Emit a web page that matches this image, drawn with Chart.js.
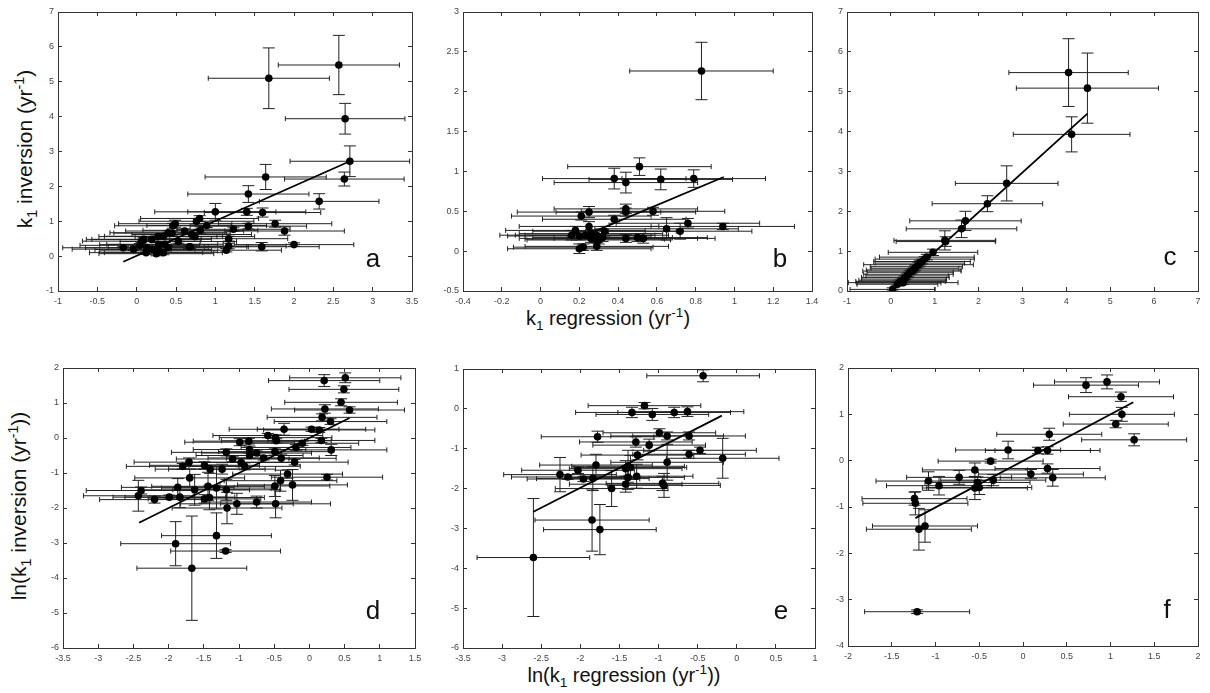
<!DOCTYPE html>
<html>
<head>
<meta charset="utf-8">
<script src="https://cdn.jsdelivr.net/npm/chart.js@4/dist/chart.umd.min.js"></script>
<style>
  html, body { margin: 0; padding: 0; background: #fff; }
  body { position: relative; width: 1210px; height: 693px; overflow: hidden;
         font-family: "Liberation Sans", Arial, Helvetica, sans-serif; }
  canvas { position: absolute; }
  .axis-title { position: absolute; white-space: nowrap; font-size: 20px; color: #111;
                transform: translate(-50%, -50%); }
  .axis-title.rot { transform: translate(-50%, -50%) rotate(-90deg); font-size: 21px; }
  .axis-title sub, .axis-title sup { font-size: 68%; line-height: 0; }
</style>
</head>
<body>

<div class="axis-title rot" style="left:25px; top:149px;">k<sub>1</sub> inversion (yr<sup>-1</sup>)</div>
<div class="axis-title rot" style="left:19px; top:506px;">ln(k<sub>1</sub> inversion (yr<sup>-1</sup>))</div>
<div class="axis-title" style="left:608px; top:318px;">k<sub>1</sub> regression (yr<sup>-1</sup>)</div>
<div class="axis-title" style="left:624px; top:675px;">ln(k<sub>1</sub> regression (yr<sup>-1</sup>))</div>

<script>
/* =======================
   Panel a: k1, inversion vs regression
======================= */
const aX = [1.68, 2.57, 2.65, 2.71, 2.64, 1.64, 1.42, 2.32, 1.00, 1.40, 1.60, 1.76, 1.88, 1.23, 1.42, 2.00, 1.59,
  1.17, 1.17, 1.14, 0.67, 0.80, 0.76, 0.49, 0.46, 0.61, 0.81, 0.89, 0.74, 0.40, 0.34, 0.19, 0.09, 0.28, 0.13,
  0.21, 0.28, -0.04, -0.17, 0.40, 0.53, 0.25, 0.34, 0.12, 0.04, 0.45, 0.06, 0.36, 0.68, 0.70, 0.27];
const aY = [5.10, 5.48, 3.94, 2.72, 2.21, 2.27, 1.78, 1.57, 1.27, 1.27, 1.25, 0.93, 0.72, 0.77, 0.86, 0.33, 0.27,
  0.50, 0.29, 0.17, 0.27, 1.08, 1.00, 0.93, 0.87, 0.72, 0.74, 0.88, 0.56, 0.67, 0.57, 0.48, 0.48, 0.33, 0.24,
  0.19, 0.15, 0.20, 0.24, 0.24, 0.42, 0.07, 0.10, 0.10, 0.31, 0.66, 0.43, 0.34, 0.27, 0.62, 0.56];
const aXErr = [0.77, 0.77, 0.76, 0.76, 0.76, 0.77, 0.77, 0.76, 0.77, 0.75, 0.74, 0.72, 0.76, 0.72, 0.74, 0.76, 0.73,
  0.75, 0.73, 0.70, 0.75, 0.75, 0.73, 0.72, 0.74, 0.75, 0.73, 0.76, 0.76, 0.74, 0.75, 0.76, 0.73, 0.75, 0.78,
  0.74, 0.75, 0.78, 0.77, 0.76, 0.74, 0.73, 0.75, 0.72, 0.76, 0.74, 0.75, 0.74, 0.72, 0.76, 0.75];
const aYErr = [0.87, 0.85, 0.44, 0.44, 0.20, 0.36, 0.24, 0.22, 0.24, 0.10, 0.13, 0.10, 0.12, 0.06, 0.08, 0.05, 0.12,
  0.07, 0.08, 0.05, 0.06, 0.08, 0.08, 0.10, 0.07, 0.06, 0.10, 0.06, 0.06, 0.06, 0.06, 0.05, 0.06, 0.06, 0.05,
  0.05, 0.05, 0.04, 0.04, 0.05, 0.05, 0.06, 0.06, 0.05, 0.05, 0.06, 0.05, 0.05, 0.05, 0.06, 0.05];
const aFitX = [-0.17, 2.71];
const aFitY = [-0.16, 2.72];
const aXTicks = [-1, -0.5, 0, 0.5, 1, 1.5, 2, 2.5, 3, 3.5];
const aYTicks = [-1, 0, 1, 2, 3, 4, 5, 6, 7];

/* =======================
   Panel b
======================= */
const bX = [0.83, 0.51, 0.38, 0.44, 0.62, 0.79, 0.21, 0.25, 0.44, 0.44, 0.58, 0.38, 0.25, 0.33, 0.65, 0.72, 0.76,
  0.94, 0.18, 0.16, 0.20, 0.23, 0.26, 0.29, 0.28, 0.30, 0.20, 0.22, 0.29, 0.44, 0.53, 0.50, 0.26, 0.32];
const bY = [2.26, 1.06, 0.91, 0.86, 0.90, 0.91, 0.44, 0.49, 0.53, 0.49, 0.50, 0.40, 0.31, 0.25, 0.28, 0.25, 0.35,
  0.31, 0.26, 0.20, 0.19, 0.20, 0.22, 0.20, 0.15, 0.14, 0.03, 0.05, 0.06, 0.16, 0.16, 0.17, 0.16, 0.17];
const bXErr = [0.37, 0.37, 0.37, 0.37, 0.37, 0.37, 0.36, 0.37, 0.37, 0.36, 0.37, 0.37, 0.36, 0.37, 0.37, 0.37, 0.37,
  0.37, 0.36, 0.37, 0.37, 0.36, 0.37, 0.37, 0.36, 0.37, 0.37, 0.36, 0.37, 0.37, 0.37, 0.36, 0.37, 0.36];
const bYErr = [0.36, 0.11, 0.13, 0.13, 0.13, 0.11, 0.05, 0.07, 0.06, 0.05, 0.05, 0.05, 0.06, 0.06, 0.14, 0.10, 0.06,
  0.04, 0.05, 0.06, 0.05, 0.05, 0.05, 0.06, 0.05, 0.05, 0.06, 0.04, 0.05, 0.05, 0.06, 0.05, 0.05, 0.05];
const bFitX = [0.26, 0.945];
const bFitY = [0.23, 0.93];
const bXTicks = [-0.4, -0.2, 0, 0.2, 0.4, 0.6, 0.8, 1, 1.2, 1.4];
const bYTicks = [-0.5, 0, 0.5, 1, 1.5, 2, 2.5, 3];

/* =======================
   Panel c
======================= */
const cX = [4.05, 4.48, 4.12, 2.64, 2.20, 1.70, 1.61, 1.23, 1.25, 0.96, 0.82, 0.77, 0.71, 0.66, 0.63, 0.58, 0.55,
  0.52, 0.48, 0.44, 0.40, 0.37, 0.33, 0.30, 0.27, 0.22, 0.18, 0.15, 0.04, 0.28];
const cY = [5.48, 5.09, 3.93, 2.70, 2.19, 1.76, 1.56, 1.27, 1.24, 0.97, 0.85, 0.80, 0.74, 0.70, 0.66, 0.61, 0.57,
  0.53, 0.50, 0.47, 0.42, 0.38, 0.34, 0.30, 0.27, 0.24, 0.20, 0.17, 0.04, 0.21];
const cXErr = [1.36, 1.62, 1.33, 1.17, 1.26, 1.27, 1.26, 1.16, 1.13, 1.02, 1.08, 1.13, 1.10, 1.02, 1.25, 1.05, 1.00,
  1.08, 1.12, 0.98, 1.02, 0.94, 1.00, 0.96, 1.00, 1.02, 0.96, 0.92, 0.97, 1.25];
const cYErr = [0.85, 0.88, 0.44, 0.44, 0.20, 0.24, 0.22, 0.24, 0.12, 0.08, 0.07, 0.06, 0.06, 0.07, 0.06, 0.05, 0.06,
  0.05, 0.05, 0.05, 0.05, 0.05, 0.05, 0.05, 0.05, 0.04, 0.04, 0.04, 0.04, 0.05];
const cFitX = [0.02, 4.48];
const cFitY = [0.00, 4.45];
const cXTicks = [-1, 0, 1, 2, 3, 4, 5, 6, 7];
const cYTicks = [0, 1, 2, 3, 4, 5, 6, 7];

/* =======================
   Panel d: natural log of k1
======================= */
const dX = [0.51, 0.21, 0.49, 0.45, 0.57, 0.22, 0.18, 0.30, -0.36, 0.03, 0.14, -0.59, -0.48, -0.47, 0.17, -0.10,
  -0.19, -0.99, -0.86, -0.85, -0.75, -0.85, -0.65, -0.49, -0.40, 0.31, -0.21, -1.18, -1.09, -0.97, -0.92, -1.71,
  -1.80, -1.49, -1.41, -1.24, -1.70, -0.31, -0.41, 0.25, -0.24, -0.49, -1.87, -2.39, -2.43, -2.20, -1.99, -1.84,
  -1.63, -1.44, -1.32, -1.18, -1.49, -1.42, -1.17, -1.03, -0.75, -0.48, -1.90, -1.32, -1.19, -1.67];
const dY = [1.72, 1.64, 1.39, 1.02, 0.80, 0.83, 0.59, 0.47, 0.25, 0.25, 0.23, 0.07, 0.01, -0.08, -0.07, -0.15,
  -0.27, -0.12, -0.09, -0.33, -0.43, -0.50, -0.57, -0.39, -0.58, -0.34, -0.69, -0.41, -0.60, -0.70, -0.81, -0.69,
  -0.81, -0.78, -0.89, -0.89, -1.14, -1.03, -1.22, -1.12, -1.34, -1.37, -1.41, -1.50, -1.65, -1.76, -1.69, -1.69,
  -1.48, -1.38, -1.43, -1.48, -1.74, -1.70, -2.00, -1.88, -1.83, -1.88, -3.02, -2.79, -3.23, -3.72];
const dXErr = [0.79, 0.79, 0.78, 0.80, 0.78, 0.76, 0.78, 0.80, 0.78, 0.77, 0.79, 0.78, 0.80, 0.78, 0.76, 0.80,
  0.78, 0.78, 0.79, 0.80, 0.78, 0.76, 0.79, 0.80, 0.78, 0.79, 0.76, 0.78, 0.80, 0.78, 0.79, 0.78,
  0.80, 0.78, 0.78, 0.76, 0.78, 0.78, 0.80, 0.79, 0.78, 0.78, 0.80, 0.78, 0.78, 0.78, 0.80, 0.78,
  0.78, 0.80, 0.78, 0.76, 0.80, 0.78, 0.78, 0.80, 0.78, 0.78, 0.78, 0.78, 0.78, 0.78];
const dYErr = [0.14, 0.17, 0.10, 0.10, 0.09, 0.12, 0.10, 0.08, 0.17, 0.06, 0.07, 0.06, 0.08, 0.06, 0.06, 0.06,
  0.08, 0.10, 0.08, 0.10, 0.06, 0.08, 0.06, 0.10, 0.12, 0.16, 0.08, 0.10, 0.08, 0.12, 0.10, 0.12,
  0.08, 0.10, 0.12, 0.14, 0.25, 0.12, 0.30, 0.08, 0.44, 0.30, 0.25, 0.10, 0.44, 0.10, 0.06, 0.30,
  0.44, 0.40, 0.60, 0.30, 0.12, 0.35, 0.45, 0.30, 0.17, 0.40, 0.63, 0.65, 0.04, 1.49];
const dFitX = [-2.42, 0.57];
const dFitY = [-2.42, 0.57];
const dXTicks = [-3.5, -3, -2.5, -2, -1.5, -1, -0.5, 0, 0.5, 1, 1.5];
const dYTicks = [-6, -5, -4, -3, -2, -1, 0, 1, 2];

/* =======================
   Panel e
======================= */
const eX = [-0.43, -1.18, -1.34, -1.08, -0.80, -0.63, -1.78, -0.99, -0.89, -0.61, -1.29, -1.12, -1.27, -0.61,
  -0.47, -0.18, -0.89, -1.39, -1.42, -1.36, -1.80, -2.03, -2.26, -2.16, -1.96, -1.84, -1.39, -1.28, -1.60,
  -1.42, -0.95, -0.93, -1.85, -1.75, -2.60];
const eY = [0.83, 0.08, -0.09, -0.14, -0.09, -0.07, -0.70, -0.60, -0.68, -0.68, -0.83, -0.91, -1.16, -1.14,
  -1.04, -1.24, -1.34, -1.44, -1.50, -1.47, -1.41, -1.54, -1.65, -1.71, -1.76, -1.75, -1.72, -1.69, -2.00,
  -1.89, -1.87, -1.92, -2.79, -3.03, -3.73];
const eXErr = [0.72, 0.72, 0.72, 0.72, 0.72, 0.72, 0.72, 0.72, 0.72, 0.72, 0.72, 0.72, 0.72, 0.72,
  0.72, 0.72, 0.72, 0.72, 0.72, 0.72, 0.72, 0.72, 0.72, 0.72, 0.72, 0.72, 0.72, 0.72, 0.72,
  0.72, 0.72, 0.72, 0.73, 0.72, 0.72];
const eYErr = [0.15, 0.08, 0.13, 0.15, 0.13, 0.12, 0.14, 0.10, 0.10, 0.10, 0.13, 0.15, 0.12, 0.10,
  0.08, 0.50, 0.45, 0.40, 0.20, 0.30, 0.27, 0.08, 0.43, 0.06, 0.06, 0.30, 0.30, 0.30, 0.45,
  0.20, 0.18, 0.30, 0.78, 0.63, 1.48];
const eFitX = [-2.60, -0.19];
const eFitY = [-2.58, -0.17];
const eXTicks = [-3.5, -3, -2.5, -2, -1.5, -1, -0.5, 0, 0.5, 1];
const eYTicks = [-6, -5, -4, -3, -2, -1, 0, 1];

/* =======================
   Panel f
======================= */
const fX = [0.96, 0.72, 1.12, 1.13, 1.06, 1.27, 0.30, 0.17, 0.28, -0.17, -0.37, -0.55, -0.73, 0.28, 0.09, 0.34,
  -0.34, -0.52, -1.08, -0.96, -0.55, -0.50, -1.24, -1.23, -1.12, -1.19, -1.21];
const fY = [1.70, 1.63, 1.38, 1.00, 0.79, 0.45, 0.57, 0.22, 0.22, 0.23, -0.01, -0.20, -0.36, -0.17, -0.29, -0.37,
  -0.42, -0.47, -0.44, -0.54, -0.59, -0.58, -0.82, -0.92, -1.41, -1.48, -3.26];
const fXErr = [0.60, 0.60, 0.60, 0.60, 0.60, 0.60, 0.60, 0.60, 0.60, 0.60, 0.60, 0.60, 0.60, 0.60, 0.60, 0.60,
  0.60, 0.60, 0.60, 0.60, 0.60, 0.60, 0.60, 0.60, 0.60, 0.60, 0.60];
const fYErr = [0.15, 0.16, 0.10, 0.15, 0.08, 0.13, 0.13, 0.07, 0.08, 0.19, 0.04, 0.15, 0.15, 0.10, 0.10, 0.18,
  0.12, 0.12, 0.20, 0.20, 0.25, 0.15, 0.14, 0.25, 0.35, 0.45, 0.04];
const fFitX = [-1.23, 1.26];
const fFitY = [-1.24, 1.26];
const fXTicks = [-2, -1.5, -1, -0.5, 0, 0.5, 1, 1.5, 2];
const fYTicks = [-4, -3, -2, -1, 0, 1, 2];

/* =======================
   Layout: plot area of each panel [left, top, right, bottom]
======================= */
const panels = [
  { letter: "a", xs: aX, ys: aY, xe: aXErr, ye: aYErr, fitX: aFitX, fitY: aFitY, xTicks: aXTicks, yTicks: aYTicks,
    area: [58, 12, 412, 291], letterAt: [39, 24] },
  { letter: "b", xs: bX, ys: bY, xe: bXErr, ye: bYErr, fitX: bFitX, fitY: bFitY, xTicks: bXTicks, yTicks: bYTicks,
    area: [463, 12, 812, 291], letterAt: [32, 24] },
  { letter: "c", xs: cX, ys: cY, xe: cXErr, ye: cYErr, fitX: cFitX, fitY: cFitY, xTicks: cXTicks, yTicks: cYTicks,
    area: [847, 12, 1198, 291], letterAt: [28, 26] },
  { letter: "d", xs: dX, ys: dY, xe: dXErr, ye: dYErr, fitX: dFitX, fitY: dFitY, xTicks: dXTicks, yTicks: dYTicks,
    area: [63, 368, 415, 648], letterAt: [42, 29] },
  { letter: "e", xs: eX, ys: eY, xe: eXErr, ye: eYErr, fitX: eFitX, fitY: eFitY, xTicks: eXTicks, yTicks: eYTicks,
    area: [463, 369, 815, 648], letterAt: [34, 29] },
  { letter: "f", xs: fX, ys: fY, xe: fXErr, ye: fYErr, fitX: fFitX, fitY: fFitY, xTicks: fXTicks, yTicks: fYTicks,
    area: [848, 368, 1198, 646], letterAt: [31, 28] }
];

const M = { left: 50, top: 12, right: 12, bottom: 24 };
const FONT = '"Liberation Sans", Arial, Helvetica, sans-serif';
const INK = "#222";

/* =======================
   Plugins: error bars and panel letter
======================= */
function errorBarsPlugin(p) {
  return {
    id: "errorBars",
    beforeDatasetsDraw(chart) {
      const { ctx, chartArea, scales } = chart;
      const sx = scales.x, sy = scales.y;
      ctx.save();
      ctx.beginPath();
      ctx.rect(chartArea.left, chartArea.top, chartArea.right - chartArea.left, chartArea.bottom - chartArea.top);
      ctx.clip();
      ctx.strokeStyle = INK;
      ctx.lineWidth = 1;
      ctx.beginPath();
      p.xs.forEach((xv, i) => {
        const px = sx.getPixelForValue(xv);
        const py = sy.getPixelForValue(p.ys[i]);
        const x0 = sx.getPixelForValue(xv - p.xe[i]);
        const x1 = sx.getPixelForValue(xv + p.xe[i]);
        const y0 = sy.getPixelForValue(p.ys[i] - p.ye[i]);
        const y1 = sy.getPixelForValue(p.ys[i] + p.ye[i]);
        // horizontal bar with short caps
        ctx.moveTo(x0, py); ctx.lineTo(x1, py);
        ctx.moveTo(x0, py - 2.5); ctx.lineTo(x0, py + 2.5);
        ctx.moveTo(x1, py - 2.5); ctx.lineTo(x1, py + 2.5);
        // vertical bar with wide caps
        ctx.moveTo(px, y0); ctx.lineTo(px, y1);
        ctx.moveTo(px - 6, y0); ctx.lineTo(px + 6, y0);
        ctx.moveTo(px - 6, y1); ctx.lineTo(px + 6, y1);
      });
      ctx.stroke();
      ctx.restore();
    }
  };
}

function letterPlugin(p) {
  return {
    id: "panelLetter",
    afterDraw(chart) {
      const { ctx, chartArea } = chart;
      ctx.save();
      ctx.font = "26px " + FONT;
      ctx.fillStyle = "#111";
      ctx.textAlign = "center";
      ctx.textBaseline = "alphabetic";
      ctx.fillText(p.letter, chartArea.right - p.letterAt[0], chartArea.bottom - p.letterAt[1]);
      ctx.restore();
    }
  };
}

const fmt = v => String(Math.round(v * 100) / 100);

function axis(position, tickValues, showLabels, size) {
  const horizontal = position === "top" || position === "bottom";
  return {
    type: "linear",
    position,
    min: tickValues[0],
    max: tickValues[tickValues.length - 1],
    afterBuildTicks: s => { s.ticks = tickValues.map(v => ({ value: v })); },
    ticks: {
      display: showLabels,
      autoSkip: false,
      maxRotation: 0,
      padding: horizontal ? 9 : 8,
      color: "#444",
      font: { family: FONT, size: 9 },
      callback: v => fmt(v)
    },
    grid: { drawOnChartArea: false, drawTicks: true, tickLength: -4, color: "#333", lineWidth: 1 },
    border: { display: true, color: "#333", width: 1 },
    afterFit: s => {
      if (horizontal) s.height = size; else s.width = size;
      s.paddingLeft = 0; s.paddingRight = 0; s.paddingTop = 0; s.paddingBottom = 0;
    }
  };
}

/* =======================
   Build one chart per panel
======================= */
panels.forEach(p => {
  const [l, t, r, b] = p.area;
  const canvas = document.createElement("canvas");
  canvas.width = (r - l) + M.left + M.right;
  canvas.height = (b - t) + M.top + M.bottom;
  canvas.style.left = (l - M.left) + "px";
  canvas.style.top = (t - M.top) + "px";
  canvas.style.width = canvas.width + "px";
  canvas.style.height = canvas.height + "px";
  document.body.appendChild(canvas);

  new Chart(canvas.getContext("2d"), {
    type: "scatter",
    data: {
      datasets: [
        {
          type: "line",
          data: p.fitX.map((v, i) => ({ x: v, y: p.fitY[i] })),
          borderColor: "#000",
          borderWidth: 1.8,
          pointRadius: 0,
          showLine: true,
          fill: false
        },
        {
          data: p.xs.map((v, i) => ({ x: v, y: p.ys[i] })),
          pointRadius: 3.8,
          pointBackgroundColor: "#000",
          pointBorderWidth: 0,
          showLine: false
        }
      ]
    },
    options: {
      responsive: false,
      animation: false,
      devicePixelRatio: 1,
      events: [],
      layout: { padding: 0 },
      plugins: { legend: { display: false }, tooltip: { enabled: false } },
      scales: {
        x: axis("bottom", p.xTicks, true, M.bottom),
        x2: axis("top", p.xTicks, false, M.top),
        y: axis("left", p.yTicks, true, M.left),
        y2: axis("right", p.yTicks, false, M.right)
      }
    },
    plugins: [errorBarsPlugin(p), letterPlugin(p)]
  });
});
</script>
</body>
</html>
